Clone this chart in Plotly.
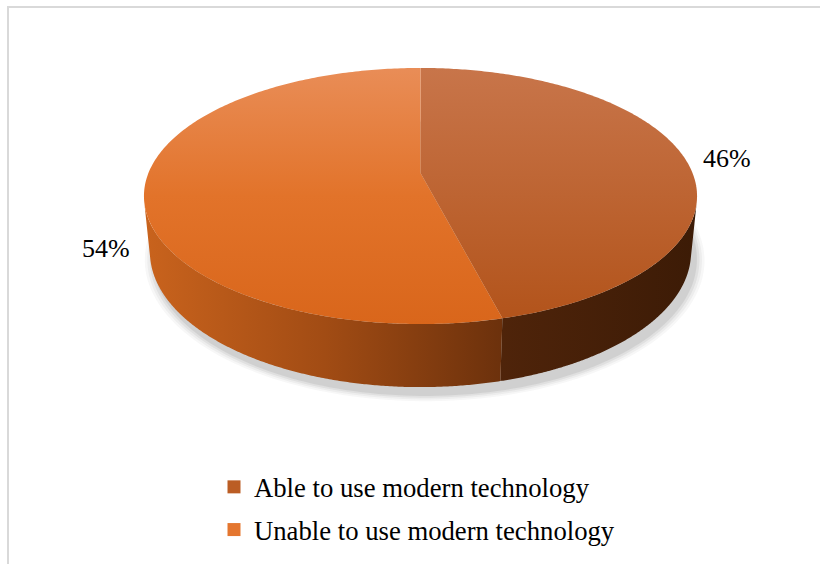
import numpy as np
import plotly.graph_objects as go

# ---- data ----
labels = ["Able to use modern technology", "Unable to use modern technology"]
values = [46, 54]
pct_text = ["46%", "54%"]

# ---- style ----
top_scales = [
    [[0, "#c8754a"], [1, "#b2531a"]],
    [[0, "#e98d57"], [0.5, "#e2732a"], [1, "#d9661b"]],
]
wall_scales = [
    [[0, "#4f240a"], [1, "#3c1b06"]],
    [[0, "#c9631d"], [0.5, "#a24c14"], [1, "#6c310c"]],
]
legend_colors = ["#bb5d24", "#e4762f"]

W, H = 820, 564
# perspective camera for the 3-D pie (pixel space)
CX, CY0 = 420.5, 173.0
ELEV = np.radians(27.1)
CE, SE = np.cos(ELEV), np.sin(ELEV)
DIST = 4.955
FOC = 1348.0
THICK = 0.2324

fig = go.Figure()


def proj(X, Y, Z):
    yc = Y * CE + Z * SE
    zc = -Y * SE + Z * CE + DIST
    return CX + FOC * X / zc, CY0 - FOC * yc / zc


def arc(a0, a1, Y=0.0, r=1.0, dx=0.0, n=240):
    th = np.radians(np.linspace(a0, a1, n))
    return proj(r * np.sin(th) + dx, Y + 0 * th, r * np.cos(th))


total = float(sum(values))
bounds = [0.0]
for v in values:
    bounds.append(bounds[-1] + 360.0 * v / total)

# soft shadow under the pie
for k, op in enumerate([0.04, 0.05, 0.07, 0.09]):
    s = 0.035 - k * 0.009
    ex, ey = arc(0, 360, Y=-THICK - 0.02, r=1 + s, dx=0.015)
    fig.add_trace(go.Scatter(
        x=ex, y=ey + 2, fill="toself", mode="none",
        fillcolor=f"rgba(60,60,60,{op})",
        hoverinfo="skip", showlegend=False))

# visible part of the side wall
t_r = np.degrees(np.arccos(-1.0 / (DIST * CE)))
t_l = 360.0 - t_r
for i in range(len(values)):
    a0, a1 = max(bounds[i], t_r), min(bounds[i + 1], t_l)
    if a1 <= a0:
        continue
    tx, ty = arc(a0, a1, Y=0.0)
    bx, by = arc(a0, a1, Y=-THICK)
    xs = np.concatenate([tx, bx[::-1]])
    ys = np.concatenate([ty, by[::-1]])
    fig.add_trace(go.Scatter(
        x=xs, y=ys, fill="toself", mode="none",
        fillgradient=dict(type="horizontal", colorscale=wall_scales[i],
                          start=float(xs.min()), stop=float(xs.max())),
        hoverinfo="skip", showlegend=False))

# top faces
apx, apy = proj(0.0, 0.0, 0.0)
_, top_y = proj(0.0, 0.0, 1.0)
_, bot_y = proj(0.0, 0.0, -1.0)
for i in range(len(values)):
    ax, ay = arc(bounds[i], bounds[i + 1])
    xs = np.concatenate([[apx], ax, [apx]])
    ys = np.concatenate([[apy], ay, [apy]])
    fig.add_trace(go.Scatter(
        x=xs, y=ys, fill="toself", mode="none",
        fillgradient=dict(type="vertical", colorscale=top_scales[i],
                          start=float(top_y), stop=float(bot_y)),
        hoverinfo="skip", showlegend=False))

# percentage labels
for i in range(len(values)):
    mid = np.radians((bounds[i] + bounds[i + 1]) / 2)
    fig.add_annotation(x=416.5 + 312.5 * np.sin(mid),
                       y=203.5 - 359.0 * np.cos(mid),
                       text=pct_text[i], showarrow=False,
                       font=dict(family="Liberation Serif", size=26, color="#000"),
                       xanchor="center", yanchor="middle")

# legend entries
for i in range(len(values)):
    fig.add_trace(go.Scatter(
        x=[None], y=[None], mode="markers", name=labels[i],
        legendgroup=f"g{i}",
        marker=dict(symbol="square", size=13, color=legend_colors[i]),
        showlegend=True))

fig.add_shape(type="rect", xref="paper", yref="paper",
              x0=8 / W, x1=1.02, y0=-0.02, y1=1 - 7 / H,
              line=dict(color="#d9d9d9", width=2), layer="below")

fig.update_layout(
    width=W, height=H, margin=dict(l=0, r=0, t=0, b=0),
    paper_bgcolor="white", plot_bgcolor="white",
    xaxis=dict(range=[0, W], visible=False, fixedrange=True),
    yaxis=dict(range=[H, 0], visible=False, fixedrange=True),
    showlegend=True,
    legend=dict(x=214 / W, y=1 - 463 / H, xanchor="left", yanchor="top",
                font=dict(family="Liberation Serif", size=26.7, color="#000"),
                tracegroupgap=5, traceorder="grouped",
                bgcolor="rgba(0,0,0,0)"),
)

fig.write_html("out.html")
